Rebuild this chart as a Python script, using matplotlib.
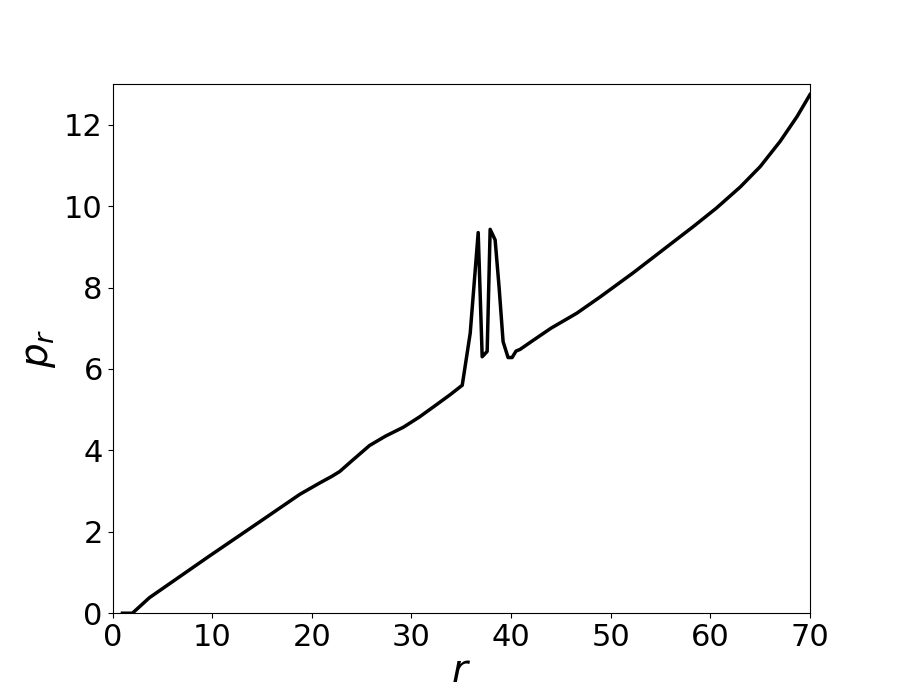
import matplotlib
matplotlib.use("Agg")
import matplotlib.pyplot as plt

r_vals = [1.0, 2.0, 3.7, 9.7, 14.8, 18.8, 20.8, 22.0, 22.8, 24.1, 25.8, 27.4, 29.2, 30.8,
          32.5, 33.9, 35.1, 35.9, 36.7, 37.1, 37.6, 37.9, 38.4, 38.8, 39.2, 39.7, 40.1,
          40.5, 40.9, 42.2, 44.0, 46.6, 49.0, 52.3, 54.9, 58.3, 60.6, 63.0, 65.0, 67.0,
          68.7, 70.0]
p_vals = [0.0, 0.0, 0.38, 1.40, 2.25, 2.92, 3.20, 3.36, 3.48, 3.76, 4.12, 4.35, 4.57, 4.82,
          5.12, 5.37, 5.60, 6.88, 9.35, 6.30, 6.43, 9.43, 9.17, 8.0, 6.67, 6.28, 6.28,
          6.44, 6.48, 6.70, 7.00, 7.37, 7.78, 8.37, 8.86, 9.50, 9.95, 10.47, 10.97, 11.59,
          12.20, 12.74]

fig, ax = plt.subplots(figsize=(9, 7), dpi=100)
fig.subplots_adjust(left=0.125, right=0.9, bottom=0.124, top=0.88)
ax.plot(r_vals, p_vals, color="black", linewidth=2.5)
ax.set_xlim(0, 70)
ax.set_ylim(0, 13)
ax.set_xticks([0, 10, 20, 30, 40, 50, 60, 70])
ax.set_yticks([0, 2, 4, 6, 8, 10, 12])
ax.tick_params(labelsize=22)
ax.set_xlabel(r"$r$", fontsize=28, labelpad=0)
ax.set_ylabel(r"$p_r$", fontsize=28)
fig.savefig("out.png", dpi=100)
